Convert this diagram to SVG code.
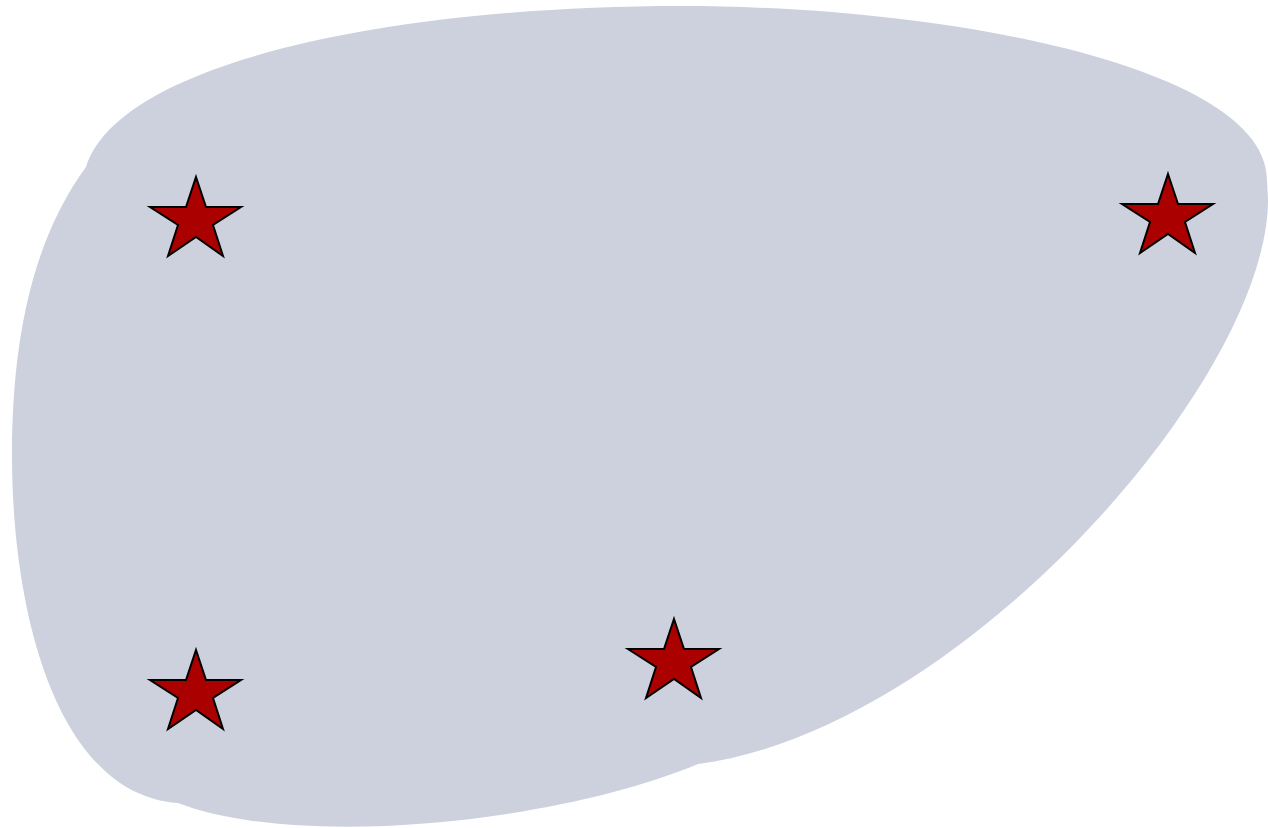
<svg xmlns="http://www.w3.org/2000/svg" xmlns:xlink="http://www.w3.org/1999/xlink" width="1268" height="828" viewBox="0 0 1268 828">
<style>
.blob{fill:#cdd1de;stroke:none}
.star{fill:#aa0000;stroke:#000;stroke-width:2;stroke-linejoin:miter}
</style>
<defs>
<path id="starShape" d="M0,0 L10,30 L45,30 L17,48 L27,79 L0,60 L-28,79 L-18,48 L-46,30 L-10,30 Z"/>
</defs>
<rect width="1268" height="828" fill="#fff"/>
<g id="region">
<path class="blob" d="M86,167 C120,60 400,6 680,6 C960,6 1267,70 1267,180 L1268,200 C1268,380 960,730 698,764 C560,822 300,850 178,803 C60,795 12,620 12,455 C12,320 40,230 86,167 Z"/>
</g>
<g id="star1"><use href="#starShape" class="star" transform="translate(196,177)"/></g>
<g id="star2"><use href="#starShape" class="star" transform="translate(1168,174)"/></g>
<g id="star3"><use href="#starShape" class="star" transform="translate(196,650)"/></g>
<g id="star4"><use href="#starShape" class="star" transform="translate(674,619)"/></g>
<g id="connectors"></g>
</svg>
